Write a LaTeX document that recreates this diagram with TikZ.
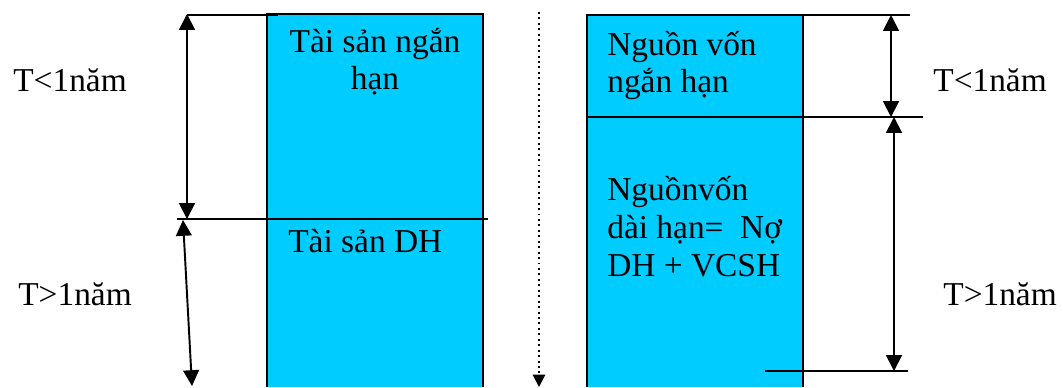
\documentclass[tikz,border=0pt]{standalone}
\usepackage{fontspec}
\setmainfont{Liberation Serif}
\usetikzlibrary{arrows.meta}

\definecolor{assetblue}{RGB}{0,204,255}

\begin{document}
\begin{tikzpicture}[x=0.02cm, y=-0.02cm,
    lbl/.style={inner sep=0pt, font=\fontsize{19pt}{20.5pt}\selectfont},
    span/.style={{Triangle[width=9pt,length=9pt]}-{Triangle[width=9pt,length=9pt]}, line width=1.1pt},
    edge/.style={line width=1.1pt}]
    \useasboundingbox (0, 0) rectangle (1063, 387);

    % ---------------------------------------------
    % left column: assets
    \fill[assetblue] (267, 14) rectangle (483, 387);
    \draw[edge] (267, 387) -- (267, 14) -- (483, 14) -- (483, 387);
    \coordinate (aTopL) at (187, 15);
    \coordinate (aTopR) at (278, 15);
    \coordinate (aMidL) at (177, 219);
    \coordinate (aMidR) at (488, 219);
    \draw[line width=1pt] (aTopL) -- (aTopR);
    \draw[line width=0.9pt] (aMidL) -- (aMidR);
    \node[lbl, anchor=base, align=center] (short) at (375, 89) {Tài sản ngắn\\hạn};
    \node[lbl, anchor=base west] (long) at (288, 252) {Tài sản DH};

    % left spans
    \coordinate (s1a) at (187, 14);
    \coordinate (s1b) at (187, 219);
    \coordinate (s2a) at (183, 220);
    \coordinate (s2b) at (192, 386);
    \draw[span] (s1a) -- (s1b);
    \draw[span] (s2a) -- (s2b);
    \node[lbl, anchor=base west] (lt) at (13, 91) {T<1năm};
    \node[lbl, anchor=base west] (lg) at (18, 305) {T>1năm};

    % time axis
    \coordinate (axA) at (539, 12);
    \coordinate (axB) at (539, 387);
    \draw[dotted, line width=1.1pt, -{Triangle[width=7pt,length=7pt]}] (axA) -- (axB);

    % ---------------------------------------------
    % right column: sources
    \fill[assetblue] (587, 15) rectangle (803, 387);
    \draw[edge] (587, 387) -- (587, 15) -- (803, 15) -- (803, 387);
    \coordinate (bTopL) at (790, 15);
    \coordinate (bTopR) at (910, 15);
    \coordinate (bMidL) at (587, 117);
    \coordinate (bMidR) at (923, 117);
    \coordinate (bBotL) at (765, 371);
    \coordinate (bBotR) at (908, 371);
    \draw[line width=1pt] (bTopL) -- (bTopR);
    \draw[line width=0.9pt] (bMidL) -- (bMidR);
    \draw[line width=0.9pt] (bBotL) -- (bBotR);
    \node[lbl, anchor=base west, align=left] (nshort) at (607, 92) {Nguồn vốn\\ngắn hạn};
    \node[lbl, anchor=base west, align=left, font=\fontsize{19pt}{21.5pt}\selectfont] (nlong) at (607, 276) {Nguồnvốn\\dài hạn=\ \ Nợ\\DH + VCSH};

    % right spans
    \coordinate (r1a) at (891, 15);
    \coordinate (r1b) at (891, 117);
    \coordinate (r2a) at (894, 117);
    \coordinate (r2b) at (894, 371);
    \draw[span] (r1a) -- (r1b);
    \draw[span] (r2a) -- (r2b);
    \node[lbl, anchor=base west] (rt) at (933, 91) {T<1năm};
    \node[lbl, anchor=base west] (rg) at (943, 305) {T>1năm};

\end{tikzpicture}
\end{document}
